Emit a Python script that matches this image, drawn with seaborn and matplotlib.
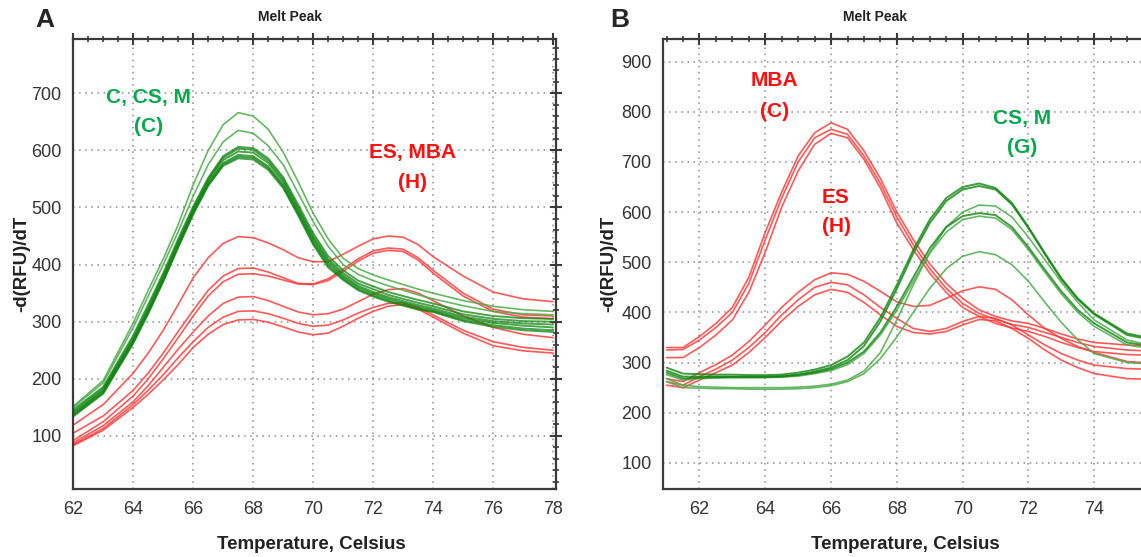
import numpy as np
import pandas as pd
import seaborn as sns
import matplotlib.pyplot as plt
import matplotlib.ticker as ticker

# ---- panel A data (temperature grid + melt curves) ----
temp_a = [62, 63, 64, 64.5, 65, 65.5, 66, 66.5, 67, 67.5, 68, 68.5, 69, 69.5,
          70, 70.5, 71, 71.5, 72, 72.5, 73, 73.5, 74, 75, 76, 77, 78]

a_green_light = [
    [152, 197, 298, 355, 410, 470, 540, 600, 645, 666, 660, 637, 597, 545, 490, 445, 411, 393, 382, 373, 365, 357, 350, 337, 327, 321, 318],
    [150, 193, 290, 345, 400, 458, 520, 575, 615, 635, 630, 608, 575, 525, 475, 432, 400, 383, 372, 363, 355, 347, 340, 328, 318, 314, 312],
]
a_green_dark = [
    [146, 186, 276, 330, 385, 445, 502, 552, 590, 606, 604, 586, 553, 505, 455, 415, 390, 372, 362, 352, 345, 338, 332, 318, 310, 306, 305],
    [143, 183, 272, 325, 381, 441, 498, 549, 587, 603, 601, 582, 549, 500, 450, 410, 385, 367, 357, 347, 340, 333, 327, 313, 305, 301, 300],
    [140, 180, 268, 321, 378, 437, 495, 546, 583, 598, 596, 578, 545, 496, 446, 406, 381, 363, 352, 343, 336, 329, 323, 309, 301, 297, 295],
    [138, 178, 266, 318, 374, 434, 492, 542, 578, 592, 590, 572, 540, 492, 442, 402, 378, 360, 349, 340, 333, 326, 320, 306, 298, 293, 290],
    [136, 176, 264, 316, 372, 432, 490, 540, 575, 589, 587, 569, 537, 489, 438, 398, 375, 357, 346, 337, 330, 323, 318, 303, 294, 288, 285],
    [134, 174, 262, 314, 370, 430, 488, 538, 573, 586, 584, 566, 534, 486, 435, 395, 373, 355, 344, 335, 328, 321, 317, 301, 291, 285, 282],
]
a_red = [
    [119, 155, 210, 245, 285, 330, 377, 412, 437, 449, 447, 438, 426, 412, 405, 405, 418, 432, 445, 450, 448, 435, 414, 380, 352, 340, 335],
    [105, 135, 180, 210, 245, 283, 320, 355, 380, 393, 394, 387, 377, 367, 366, 375, 392, 410, 424, 429, 427, 412, 390, 350, 322, 312, 310],
    [92, 125, 170, 200, 235, 272, 310, 345, 370, 383, 384, 380, 373, 366, 365, 372, 388, 406, 420, 425, 423, 408, 385, 345, 318, 308, 305],
    [88, 118, 160, 188, 220, 252, 282, 310, 332, 343, 344, 337, 327, 317, 312, 314, 322, 335, 348, 356, 358, 350, 337, 310, 290, 278, 272],
    [85, 113, 155, 180, 207, 237, 265, 290, 308, 318, 319, 314, 306, 297, 292, 294, 303, 315, 325, 332, 333, 325, 312, 285, 265, 255, 250],
    [83, 110, 150, 173, 198, 225, 255, 278, 295, 303, 304, 299, 291, 282, 277, 280, 292, 306, 318, 327, 330, 322, 308, 280, 258, 249, 245],
]

# ---- panel B data ----
temp_b = [61, 61.5, 62, 62.5, 63, 63.5, 64, 64.5, 65, 65.5, 66, 66.5, 67, 67.5,
          68, 68.5, 69, 69.5, 70, 70.5, 71, 71.5, 72, 72.5, 73, 73.5, 74, 75, 76]

b_mba = [
    [330, 330, 352, 378, 410, 470, 560, 640, 712, 758, 778, 765, 722, 667, 600, 545, 497, 458, 428, 405, 392, 383, 378, 368, 357, 347, 340, 335, 333],
    [325, 326, 345, 370, 400, 458, 545, 628, 700, 748, 765, 755, 712, 657, 590, 535, 487, 448, 418, 398, 386, 376, 370, 360, 350, 340, 332, 325, 322],
    [310, 310, 330, 355, 385, 440, 520, 610, 682, 735, 757, 748, 705, 648, 578, 525, 478, 440, 410, 392, 378, 369, 362, 352, 340, 330, 322, 316, 314],
]
b_es = [
    [268, 262, 280, 296, 315, 342, 375, 410, 440, 465, 479, 476, 462, 442, 421, 412, 414, 428, 443, 451, 446, 425, 395, 368, 348, 332, 320, 302, 298],
    [262, 255, 272, 287, 305, 330, 360, 395, 425, 450, 460, 455, 435, 410, 388, 368, 362, 368, 382, 392, 388, 375, 355, 335, 318, 305, 295, 288, 286],
    [255, 250, 265, 280, 295, 320, 350, 383, 412, 435, 446, 440, 420, 395, 372, 360, 357, 362, 375, 386, 383, 368, 348, 325, 305, 290, 278, 268, 266],
]
b_green_dark = [
    [290, 278, 277, 276, 276, 275, 275, 276, 280, 286, 295, 312, 340, 390, 455, 525, 585, 628, 650, 657, 648, 618, 570, 518, 468, 428, 398, 358, 345],
    [284, 272, 272, 272, 272, 272, 272, 273, 276, 282, 290, 305, 333, 382, 447, 518, 578, 622, 645, 652, 645, 615, 568, 516, 466, 426, 396, 355, 342],
    [280, 268, 270, 271, 271, 271, 271, 272, 275, 280, 287, 300, 322, 360, 412, 470, 528, 570, 592, 598, 594, 570, 530, 485, 442, 405, 378, 340, 330],
]
b_green_light = [
    [276, 265, 268, 269, 270, 270, 270, 271, 273, 278, 284, 296, 318, 355, 405, 462, 518, 560, 585, 592, 588, 565, 525, 480, 437, 400, 372, 335, 325],
    [268, 255, 252, 251, 250, 250, 250, 250, 251, 253, 257, 265, 283, 320, 385, 455, 520, 570, 600, 614, 612, 590, 550, 505, 460, 420, 385, 345, 330],
    [262, 250, 249, 248, 248, 247, 247, 247, 248, 250, 254, 262, 278, 308, 351, 400, 448, 487, 512, 521, 515, 495, 462, 420, 380, 345, 318, 300, 296],
]

# tick labels shown on each x axis
xticks_a = [62, 64, 66, 68, 70, 72, 74, 76, 78]
xticks_b = [62, 64, 66, 68, 70, 72, 74]

GREEN_DARK = '#0f840f'
GREEN_LIGHT = '#4aab4a'
RED = '#ff3b3b'
TXT_GREEN = '#0aa84f'
TXT_RED = '#ff1010'

sns.set_style('white')
plt.rcParams['font.family'] = ['Liberation Sans', 'DejaVu Sans']

fig = plt.figure(figsize=(11.41, 5.57), dpi=100)
W, H = 1141, 557
axA = fig.add_axes([73.3 / W, 68 / H, 482.7 / W, 450 / H])
axB = fig.add_axes([663.3 / W, 68 / H, 513.2 / W, 450 / H])


def draw(ax, temp, curves, color, lw, alpha):
    for vals in curves:
        sns.lineplot(x=temp, y=vals, color=color, lw=lw, alpha=alpha,
                     ax=ax, estimator=None, sort=False)


def style_axis(ax, xlim, ylim, xticks, ymaj):
    ax.set_xlim(*xlim)
    ax.set_ylim(*ylim)
    ax.xaxis.set_major_locator(ticker.FixedLocator(xticks))
    ax.xaxis.set_minor_locator(ticker.MultipleLocator(0.5))
    ax.yaxis.set_major_locator(ticker.MultipleLocator(ymaj))
    ax.yaxis.set_minor_locator(ticker.MultipleLocator(20))
    ax.grid(True, which='major', color='#8a8a8a', linestyle=(0, (1, 3)), lw=1.1)
    for s in ax.spines.values():
        s.set_color('#3a3a3a')
        s.set_linewidth(1.6)
        s.set_visible(True)
    ax.tick_params(axis='both', which='major', direction='inout', length=9,
                   width=1.5, color='#3a3a3a', labelsize=13, labelcolor='#333333',
                   top=True, right=True, pad=4)
    ax.tick_params(axis='both', which='minor', direction='inout', length=5,
                   width=1.2, color='#3a3a3a', top=True, right=True)
    ax.set_xlabel('Temperature, Celsius', fontsize=13.5, fontweight='bold',
                  color='#222222')
    ax.set_ylabel('-d(RFU)/dT', fontsize=13.5, fontweight='bold', color='#222222')


# panel A
draw(axA, temp_a, a_red, RED, 1.2, 0.85)
draw(axA, temp_a, a_green_light, GREEN_LIGHT, 1.2, 0.85)
draw(axA, temp_a, a_green_dark, GREEN_DARK, 1.4, 0.75)
style_axis(axA, (62, 78.1), (7, 795), xticks_a, 100)
axA.xaxis.set_label_coords(0.494, -0.105)
axA.yaxis.set_label_coords(-0.09, 0.5)

txt_font = ['Liberation Sans', 'DejaVu Sans']
for x, y, s, c in [(64.5, 693, 'C, CS, M', TXT_GREEN), (64.5, 641, '(C)', TXT_GREEN),
                   (73.3, 596, 'ES, MBA', TXT_RED), (73.3, 544, '(H)', TXT_RED)]:
    axA.text(x, y, s, color=c, fontsize=15, fontweight='bold', ha='center',
             va='center', family=txt_font)

# panel B
draw(axB, temp_b, b_mba, RED, 1.2, 0.85)
draw(axB, temp_b, b_es, RED, 1.2, 0.85)
draw(axB, temp_b, b_green_light, GREEN_LIGHT, 1.2, 0.85)
draw(axB, temp_b, b_green_dark, GREEN_DARK, 1.4, 0.8)
style_axis(axB, (60.9, 76.5), (48, 945), xticks_b, 100)
axB.xaxis.set_label_coords(0.471, -0.105)
axB.yaxis.set_label_coords(-0.09, 0.5)

for x, y, s, c in [(64.27, 863, 'MBA', TXT_RED), (64.27, 801, '(C)', TXT_RED),
                   (66.15, 630, 'ES', TXT_RED), (66.15, 572, '(H)', TXT_RED),
                   (71.8, 787, 'CS, M', TXT_GREEN), (71.8, 728, '(G)', TXT_GREEN)]:
    axB.text(x, y, s, color=c, fontsize=15, fontweight='bold', ha='center',
             va='center', family=txt_font)

# titles and panel letters
fig.text(290 / W, 1 - 17 / H, 'Melt Peak', fontsize=10, fontweight='bold',
         ha='center', va='center', color='#222222')
fig.text(875 / W, 1 - 17 / H, 'Melt Peak', fontsize=10, fontweight='bold',
         ha='center', va='center', color='#222222')
fig.text(45 / W, 1 - 20 / H, 'A', fontsize=19, fontweight='bold', ha='center',
         va='center', family=txt_font)
fig.text(620 / W, 1 - 20 / H, 'B', fontsize=19, fontweight='bold', ha='center',
         va='center', family=txt_font)

fig.savefig('out.png', dpi=100)
